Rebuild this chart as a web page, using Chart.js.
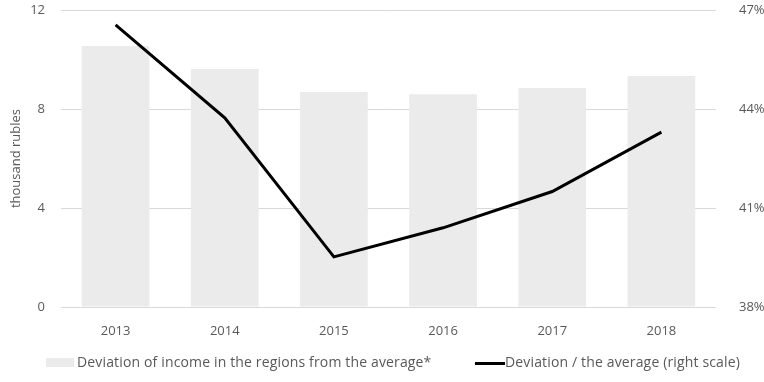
<!DOCTYPE html>
<html>
<head>
<meta charset="utf-8">
<script src="https://cdn.jsdelivr.net/npm/chart.js@4"></script>
<style>
    body { margin: 0; background: #fff; }
    #wrap { position: relative; width: 764px; height: 382px; }
    #legend {
        position: absolute; left: 0; top: 352px; width: 764px;
        font: 14px "Open Sans", sans-serif; color: #595959; letter-spacing: 0.15px;
    }
    .item { position: absolute; top: 0; white-space: nowrap; }
    .swatch { position: absolute; }
</style>
</head>
<body>
<div id="wrap">
    <canvas id="chart" width="764" height="382"></canvas>
    <div id="legend">
        <div class="swatch" style="left:46px; top:6px; width:28px; height:9px; background:#ebebeb;"></div>
        <div class="item" style="left:77px;">Deviation of income in the regions from the average*</div>
        <div class="swatch" style="left:475px; top:10px; width:30px; height:3px; background:#000;"></div>
        <div class="item" style="left:505px;">Deviation / the average (right scale)</div>
    </div>
</div>
<script>
// Data
const years = ['2013', '2014', '2015', '2016', '2017', '2018'];
const incomeDeviation = [10.55, 9.62, 8.69, 8.6, 8.85, 9.33]; // thousand rubles
const deviationShare = [46.55, 43.73, 39.52, 40.4, 41.5, 43.3]; // %
const leftTicks = [0, 4, 8, 12];
const rightTicks = [38, 41, 44, 47];

const tickFont = { family: 'Open Sans', size: 13 };
const tickColor = '#595959';

// fix axis box sizes so the plot area lands where the original has it
function fitY(width) {
    return s => {
        s.width = width;
        s.paddingTop = 10;
        s.paddingBottom = 0;
    };
}

const ctx = document.getElementById('chart').getContext('2d');
new Chart(ctx, {
    data: {
        labels: years,
        datasets: [
            {
                type: 'line',
                label: 'Deviation / the average (right scale)',
                data: deviationShare,
                yAxisID: 'y2',
                borderColor: '#000',
                borderWidth: 3,
                pointRadius: 0,
                tension: 0,
                order: 0
            },
            {
                type: 'bar',
                label: 'Deviation of income in the regions from the average*',
                data: incomeDeviation,
                yAxisID: 'y',
                backgroundColor: '#ebebeb',
                categoryPercentage: 0.62,
                barPercentage: 1,
                order: 1
            }
        ]
    },
    options: {
        responsive: false,
        animation: false,
        layout: { padding: { top: 0, bottom: 47, left: 0, right: 0 } },
        plugins: { legend: { display: false }, tooltip: { enabled: false } },
        scales: {
            x: {
                grid: { display: false },
                border: { display: false },
                ticks: { font: tickFont, color: tickColor, padding: 8 },
                afterFit: s => { s.height = 28; }
            },
            y: {
                position: 'left',
                min: 0, max: 12,
                afterBuildTicks: s => { s.ticks = leftTicks.map(v => ({ value: v })); },
                grid: { color: '#d9d9d9', drawTicks: false },
                border: { display: false },
                ticks: { font: tickFont, color: tickColor, padding: 16 },
                title: { display: true, text: 'thousand rubles', font: tickFont, color: tickColor, padding: { top: 8, bottom: 0 } },
                afterFit: fitY(61)
            },
            y2: {
                position: 'right',
                min: 38, max: 47,
                afterBuildTicks: s => { s.ticks = rightTicks.map(v => ({ value: v })); },
                grid: { display: false },
                border: { display: false },
                ticks: { font: tickFont, color: tickColor, padding: 15, callback: v => v + '%' },
                afterFit: fitY(48)
            }
        }
    }
});
</script>
</body>
</html>
